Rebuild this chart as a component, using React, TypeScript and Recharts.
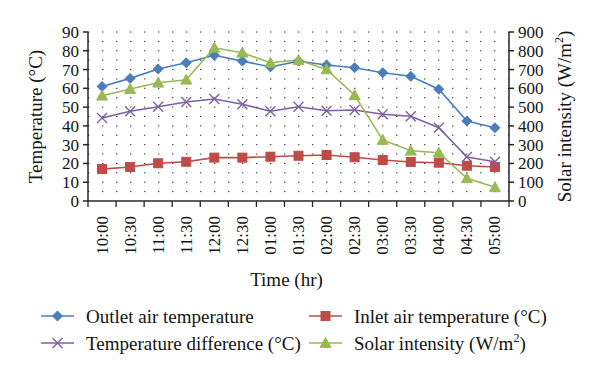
import { LineChart, Line, XAxis, YAxis, CartesianGrid } from 'recharts';

const times = ['10:00', '10:30', '11:00', '11:30', '12:00', '12:30', '01:00', '01:30', '02:00', '02:30', '03:00', '03:30', '04:00', '04:30', '05:00'];
const outletTemp = [61.0, 65.3, 70.3, 73.6, 77.6, 74.5, 71.4, 74.5, 72.4, 71.0, 68.3, 66.4, 59.5, 42.6, 39.0];
const inletTemp = [17.0, 18.1, 20.1, 20.9, 23.1, 23.1, 23.6, 24.1, 24.5, 23.3, 21.8, 20.8, 20.4, 18.8, 18.1];
const tempDiff = [44.2, 47.8, 50.2, 52.7, 54.3, 51.5, 47.8, 50.2, 48.1, 48.5, 46.2, 45.1, 39.0, 23.4, 20.9];
const solarIntensity = [561, 596, 630, 646, 816, 790, 736, 751, 701, 563, 325, 268, 257, 121, 73];

const tempTicks = [0, 10, 20, 30, 40, 50, 60, 70, 80, 90];
const solarTicks = [0, 100, 200, 300, 400, 500, 600, 700, 800, 900];
const gridTicks = [5, 10, 15, 20, 25, 30, 35, 40, 45, 50, 55, 60, 65, 70, 75, 80, 85, 90];

const FONT = '"Liberation Serif", "Times New Roman", serif';
const AXIS = '#262626';
const TEXT = '#141414';

const BLUE = '#4A7EBB';
const RED = '#BE4B48';
const PURPLE = '#7D60A0';
const GREEN = '#98B954';

const data = times.map((t, i) => ({
  time: t,
  outlet: outletTemp[i],
  inlet: inletTemp[i],
  diff: tempDiff[i],
  solar: solarIntensity[i],
}));

type Shape = 'diamond' | 'square' | 'cross' | 'triangle';

function Marker({ shape, cx, cy, color }: { shape: Shape; cx: number; cy: number; color: string }) {
  if (shape === 'diamond') {
    const r = 5;
    return <path d={`M${cx},${cy - r}L${cx + r},${cy}L${cx},${cy + r}L${cx - r},${cy}Z`} fill={color} stroke={color} />;
  }
  if (shape === 'square') {
    const r = 4.5;
    return <rect x={cx - r} y={cy - r} width={r * 2} height={r * 2} fill={color} stroke={color} />;
  }
  if (shape === 'triangle') {
    const r = 5.5;
    return <path d={`M${cx},${cy - r}L${cx + r},${cy + r * 0.8}L${cx - r},${cy + r * 0.8}Z`} fill={color} stroke={color} />;
  }
  const r = 5;
  return (
    <path
      d={`M${cx - r},${cy - r}L${cx + r},${cy + r}M${cx - r},${cy + r}L${cx + r},${cy - r}`}
      stroke={color}
      strokeWidth={1.4}
      fill="none"
    />
  );
}

const makeDot = (shape: Shape, color: string) => (p: any) => {
  if (p.cx == null || p.cy == null) return <g key={p.index} />;
  return <Marker key={p.index} shape={shape} cx={p.cx} cy={p.cy} color={color} />;
};

// label under each category plus tick marks on the category edges
const TimeTick = (props: any) => {
  const { x, y, payload, index, width, visibleTicksCount } = props;
  const half = width / visibleTicksCount / 2;
  const axisY = y - 8;
  return (
    <g>
      <line x1={x - half} x2={x - half} y1={axisY} y2={axisY + 6} stroke={AXIS} strokeWidth={1.3} />
      {index === visibleTicksCount - 1 && (
        <line x1={x + half} x2={x + half} y1={axisY} y2={axisY + 6} stroke={AXIS} strokeWidth={1.3} />
      )}
      <text
        x={x + 5.5}
        y={axisY + 15}
        transform={`rotate(-90, ${x + 5.5}, ${axisY + 15})`}
        textAnchor="end"
        fontFamily={FONT}
        fontSize={17}
        fill={TEXT}
      >
        {payload.value}
      </text>
    </g>
  );
};

const LeftTitle = (props: any) => {
  const vb = props.viewBox;
  const x = 42;
  const y = vb.y + vb.height / 2;
  return (
    <text x={x} y={y} transform={`rotate(-90, ${x}, ${y})`} textAnchor="middle" fontFamily={FONT} fontSize={19} fill={TEXT}>
      Temperature (°C)
    </text>
  );
};

const RightTitle = (props: any) => {
  const vb = props.viewBox;
  const x = 571;
  const y = vb.y + vb.height / 2;
  return (
    <text x={x} y={y} transform={`rotate(-90, ${x}, ${y})`} textAnchor="middle" fontFamily={FONT} fontSize={19} fill={TEXT}>
      Solar intensity (W/m
      <tspan dy={-8} fontSize={12}>2</tspan>
      <tspan dy={8}>)</tspan>
    </text>
  );
};

// dotted grid rows every 5 °C, placed through the temperature scale
const gridRows = (props: any) => {
  const yAxis = props.yAxis;
  if (yAxis && typeof yAxis.scale === 'function') {
    return gridTicks.map((v) => yAxis.scale(v));
  }
  const off = props.offset;
  return gridTicks.map((v) => off.top + off.height * (1 - v / 90));
};

const legendItems: { label: string; sup?: string; tail?: string; color: string; shape: Shape }[] = [
  { label: 'Outlet air temperature', color: BLUE, shape: 'diamond' },
  { label: 'Inlet air temperature (°C)', color: RED, shape: 'square' },
  { label: 'Temperature difference (°C)', color: PURPLE, shape: 'cross' },
  { label: 'Solar intensity (W/m', sup: '2', tail: ')', color: GREEN, shape: 'triangle' },
];

function ChartLegend() {
  const colX = [41, 309];
  const rowY = [316, 343];
  return (
    <svg width={600} height={60} style={{ position: 'absolute', left: 0, top: 300 }} viewBox="0 300 600 60">
      {legendItems.map((item, i) => {
        const x0 = colX[i % 2];
        const y0 = rowY[Math.floor(i / 2)];
        return (
          <g key={item.label}>
            <line x1={x0} x2={x0 + 33} y1={y0} y2={y0} stroke={item.color} strokeWidth={1.6} />
            <Marker shape={item.shape} cx={x0 + 16.5} cy={y0} color={item.color} />
            <text x={x0 + 45} y={y0 + 6.5} fontFamily={FONT} fontSize={19} fill={TEXT}>
              {item.label}
              {item.sup && <tspan dy={-8} fontSize={12}>{item.sup}</tspan>}
              {item.tail && <tspan dy={8}>{item.tail}</tspan>}
            </text>
          </g>
        );
      })}
    </svg>
  );
}

export default function App() {
  return (
    <div style={{ position: 'absolute', left: 0, top: 0, width: 600, height: 378, background: '#fff' }}>
      <LineChart width={600} height={378} data={data} margin={{ top: 32, right: 0, bottom: 87, left: 0 }}>
        <CartesianGrid
          yAxisId="temp"
          vertical={false}
          stroke="#333"
          strokeDasharray="1.4 12.6"
          horizontalCoordinatesGenerator={gridRows}
        />
        <XAxis
          dataKey="time"
          scale="band"
          height={90}
          interval={0}
          tickLine={false}
          tick={<TimeTick />}
          stroke={AXIS}
          strokeWidth={1.5}
          label={{ value: 'Time (hr)', position: 'insideBottom', offset: 5, dx: -12, fontFamily: FONT, fontSize: 19, fill: TEXT }}
        />
        <YAxis
          yAxisId="temp"
          width={88}
          domain={[0, 90]}
          ticks={tempTicks}
          interval={0}
          stroke={AXIS}
          strokeWidth={1.5}
          tickSize={5}
          tickMargin={4}
          tick={{ fontFamily: FONT, fontSize: 17, fill: TEXT }}
          label={<LeftTitle />}
        />
        <YAxis
          yAxisId="solar"
          orientation="right"
          width={91}
          domain={[0, 900]}
          ticks={solarTicks}
          interval={0}
          stroke={AXIS}
          strokeWidth={1.5}
          tickSize={5}
          tickMargin={4}
          tick={{ fontFamily: FONT, fontSize: 17, fill: TEXT }}
          label={<RightTitle />}
        />
        <Line yAxisId="temp" dataKey="outlet" stroke={BLUE} strokeWidth={1.6} dot={makeDot('diamond', BLUE)} isAnimationActive={false} />
        <Line yAxisId="temp" dataKey="inlet" stroke={RED} strokeWidth={1.6} dot={makeDot('square', RED)} isAnimationActive={false} />
        <Line yAxisId="temp" dataKey="diff" stroke={PURPLE} strokeWidth={1.6} dot={makeDot('cross', PURPLE)} isAnimationActive={false} />
        <Line yAxisId="solar" dataKey="solar" stroke={GREEN} strokeWidth={1.6} dot={makeDot('triangle', GREEN)} isAnimationActive={false} />
      </LineChart>
      <ChartLegend />
    </div>
  );
}
